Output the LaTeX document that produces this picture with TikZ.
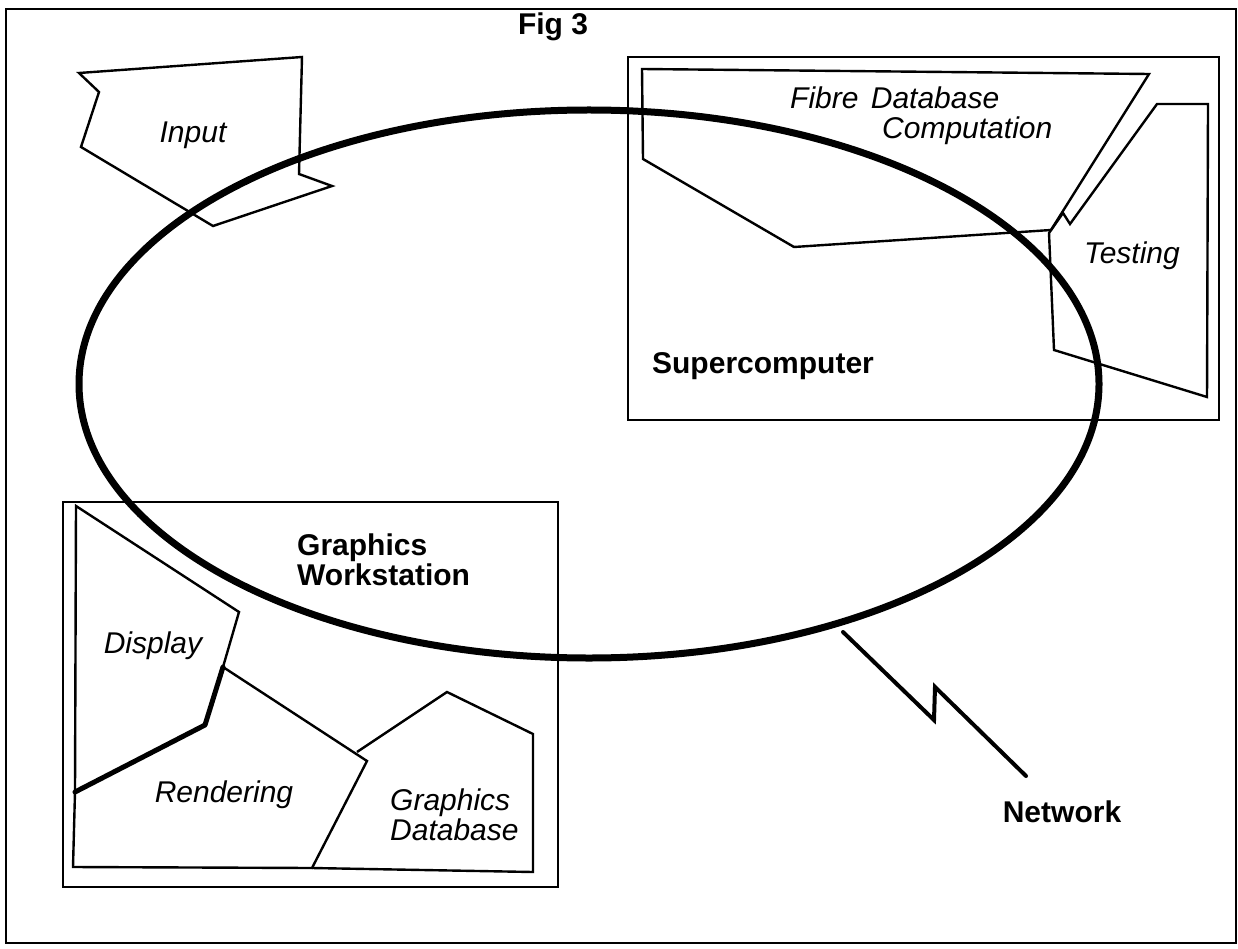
\documentclass[tikz,border=0pt]{standalone}
\usepackage{fontspec}
\setmainfont{Liberation Sans}
\begin{document}
\begin{tikzpicture}[x=1pt,y=-1pt,
  poly/.style={line width=2.4pt, line join=miter},
  heavy/.style={line width=5pt, line join=round, line cap=round},
  ring/.style={line width=7pt},
  netline/.style={line width=4pt, line join=miter, line cap=round},
  lbl/.style={font=\fontsize{30}{30}\selectfont\itshape, inner sep=0pt, align=left},
  blbl/.style={font=\fontsize{30}{30}\selectfont\bfseries, inner sep=0pt, align=left}]
\useasboundingbox (0,0) rectangle (1238,949);
% outer frame
\draw[line width=2.5pt] (6,9) rectangle (1236,943);
% boxes
\draw[poly] (628,57) rectangle (1219,420);
\draw[poly] (63,502) rectangle (558,887);
% Input
\draw[poly] (79,73) -- (99,92) -- (81,147) -- (213,226) -- (332,186) -- (299,174) -- (302,57) -- cycle;
% Fibre database computation
\draw[poly] (642,69) -- (1149,74) -- (1051,230) -- (794,247) -- (643,159) -- cycle;
% Testing
\draw[poly] (1157,104) -- (1208,104) -- (1207,397) -- (1054,350) -- (1049,233) -- (1063,213) -- (1070,224) -- cycle;
% Display
\draw[poly] (223,667) -- (239,612) -- (76,506) -- (75,792);
% Rendering
\draw[poly] (75,792) -- (73,867) -- (312,868) -- (367,761) -- (223,667);
\draw[heavy] (223,667) -- (205,725) -- (75,792);
% Graphics database
\draw[poly] (357,752) -- (447,692) -- (533,734) -- (533,872) -- (312,868);
% network ring
\draw[ring] (589,384) ellipse [x radius=510pt, y radius=274pt];
% network zigzag
\coordinate (netstart) at (843,632);
\coordinate (zigA) at (934,720);
\coordinate (zigB) at (935,687);
\coordinate (netend) at (1026,776);
\draw[netline] (netstart) -- (zigA) -- (zigB) -- (netend);
% labels
\node[blbl] (fig) at (553,27) {Fig 3};
\node[lbl] (input) at (193,135) {Input};
\node[lbl, anchor=west] (fibre) at (790,116) {Fibre\hspace{4pt} Database\\\hspace*{92pt}Computation};
\node[lbl] (testing) at (1132,256) {Testing};
\node[blbl] (super) at (763,366) {Supercomputer};
\node[blbl, anchor=west] (gw) at (297,560) {Graphics\\Workstation};
\node[lbl] (display) at (153,646) {Display};
\node[lbl] (rendering) at (224,795) {Rendering};
\node[lbl, anchor=west] (gdb) at (390,815) {Graphics\\Database};
\node[blbl] (net) at (1062,812) {Network};
\end{tikzpicture}
\end{document}
